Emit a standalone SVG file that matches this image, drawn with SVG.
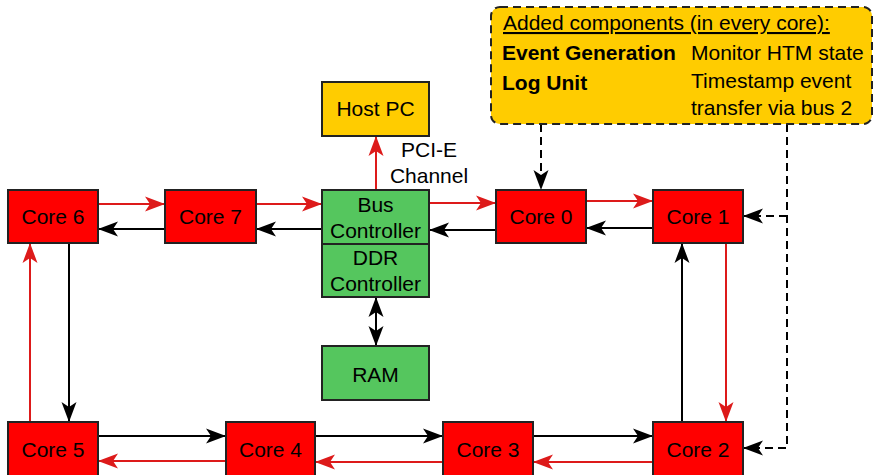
<svg xmlns="http://www.w3.org/2000/svg" width="876" height="475" viewBox="0 0 876 475">
<style>
.core{fill:#FF0000;stroke:#222;stroke-width:2}
.green{fill:#55C65E;stroke:#222;stroke-width:2}
.yellow{fill:#FFCC00;stroke:#222;stroke-width:2}
text{font-family:"Liberation Sans",Arial,sans-serif;font-size:21px;fill:#000}
.lbl{text-anchor:middle}
.b{font-weight:bold}
.blk{stroke:#000;stroke-width:2;fill:none;marker-end:url(#ab)}
.red{stroke:#DD1A1A;stroke-width:2;fill:none;marker-end:url(#ar)}
.dash{stroke:#000;stroke-width:2;fill:none;stroke-dasharray:8,5}
</style>
<defs>
<marker id="ab" markerUnits="userSpaceOnUse" viewBox="0 -8 20 16" refX="20" refY="0" markerWidth="20" markerHeight="16" orient="auto-start-reverse">
<path d="M20,0 L0,-7.5 L5,0 L0,7.5 Z" fill="#000"/>
</marker>
<marker id="ar" markerUnits="userSpaceOnUse" viewBox="0 -8 20 16" refX="20" refY="0" markerWidth="20" markerHeight="16" orient="auto">
<path d="M20,0 L0,-7.5 L5,0 L0,7.5 Z" fill="#DD1A1A"/>
</marker>
</defs>
<rect width="876" height="475" fill="#fff"/>

<g id="connectors">
<!-- top row red -->
<line class="red" x1="98" y1="204" x2="165" y2="204"/>
<line class="red" x1="256" y1="204" x2="322" y2="204"/>
<line class="red" x1="429" y1="203" x2="496" y2="203"/>
<line class="red" x1="586" y1="201" x2="653" y2="201"/>
<!-- top row black -->
<line class="blk" x1="165" y1="229" x2="98" y2="229"/>
<line class="blk" x1="322" y1="229" x2="256" y2="229"/>
<line class="blk" x1="496" y1="230" x2="429" y2="230"/>
<line class="blk" x1="653" y1="228" x2="586" y2="228"/>
<!-- verticals -->
<line class="blk" x1="69" y1="243" x2="69" y2="422"/>
<line class="red" x1="30" y1="422" x2="30" y2="243"/>
<line class="blk" x1="682" y1="422" x2="682" y2="243"/>
<line class="red" x1="726" y1="243" x2="726" y2="422"/>
<!-- bottom row -->
<line class="blk" x1="98" y1="436" x2="226" y2="436"/>
<line class="blk" x1="315" y1="436" x2="443" y2="436"/>
<line class="blk" x1="533" y1="436" x2="653" y2="436"/>
<line class="red" x1="226" y1="461" x2="98" y2="461"/>
<line class="red" x1="443" y1="462" x2="315" y2="462"/>
<line class="red" x1="653" y1="462" x2="533" y2="462"/>
<!-- host pc -->
<line class="red" x1="376" y1="190" x2="376" y2="136"/>
<!-- RAM -->
<line class="blk" x1="376" y1="297" x2="376" y2="346" marker-start="url(#ab)"/>
<!-- dashed -->
<line class="dash" x1="541" y1="124" x2="541" y2="190" marker-end="url(#ab)"/>
<polyline class="dash" points="787,124 787,448 743,448" marker-end="url(#ab)"/>
<line class="dash" x1="787" y1="216" x2="743" y2="216" marker-end="url(#ab)"/>
<text class="lbl" x="429" y="157">PCI-E</text>
<text class="lbl" x="429" y="183">Channel</text>
</g>

<g id="legend">
<rect class="yellow" x="491" y="7" width="381" height="117" rx="9" stroke-dasharray="8,5"/>
<text x="503" y="30" text-decoration="underline">Added components (in every core):</text>
<text class="b" x="502" y="60">Event Generation</text>
<text x="691" y="60">Monitor HTM state</text>
<text class="b" x="502" y="90">Log Unit</text>
<text x="691" y="88">Timestamp event</text>
<text x="691" y="115">transfer via bus 2</text>
</g>

<g id="hostpc"><rect class="yellow" x="322" y="82" width="107" height="54"/><text class="lbl" x="375.5" y="116">Host PC</text></g>
<g id="buscontroller"><rect class="green" x="322" y="190" width="107" height="54"/><text class="lbl" x="375.5" y="212">Bus</text><text class="lbl" x="375.5" y="238">Controller</text></g>
<g id="ddrcontroller"><rect class="green" x="322" y="244" width="107" height="53"/><text class="lbl" x="375.5" y="265">DDR</text><text class="lbl" x="375.5" y="291">Controller</text></g>
<g id="ram"><rect class="green" x="322" y="346" width="107" height="54"/><text class="lbl" x="375.5" y="382">RAM</text></g>

<g id="core6"><rect class="core" x="8" y="190" width="90" height="53"/><text class="lbl" x="53" y="224">Core 6</text></g>
<g id="core7"><rect class="core" x="165" y="190" width="91" height="53"/><text class="lbl" x="210.5" y="224">Core 7</text></g>
<g id="core0"><rect class="core" x="496" y="190" width="90" height="53"/><text class="lbl" x="541" y="224">Core 0</text></g>
<g id="core1"><rect class="core" x="653" y="190" width="90" height="53"/><text class="lbl" x="698" y="224">Core 1</text></g>
<g id="core5"><rect class="core" x="8" y="422" width="90" height="54"/><text class="lbl" x="53" y="457">Core 5</text></g>
<g id="core4"><rect class="core" x="226" y="422" width="89" height="54"/><text class="lbl" x="270.5" y="457">Core 4</text></g>
<g id="core3"><rect class="core" x="443" y="422" width="90" height="54"/><text class="lbl" x="488" y="457">Core 3</text></g>
<g id="core2"><rect class="core" x="653" y="422" width="90" height="54"/><text class="lbl" x="698" y="457">Core 2</text></g>
</svg>
